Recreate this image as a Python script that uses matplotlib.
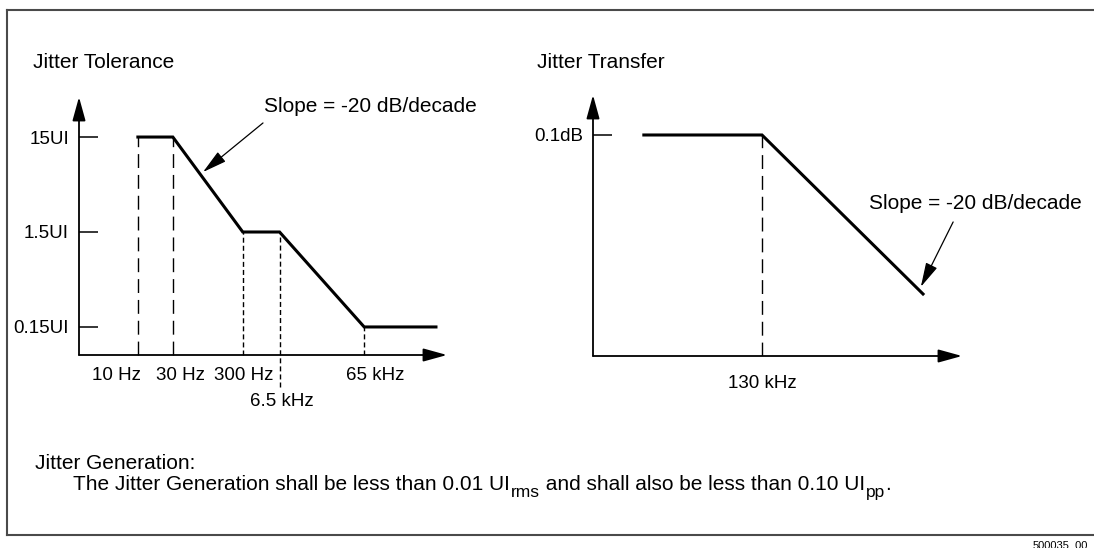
import matplotlib.pyplot as plt
from matplotlib.lines import Line2D
from matplotlib.ticker import NullLocator

plt.rcParams['font.family'] = ['Liberation Sans', 'DejaVu Sans']

# jitter tolerance mask: schematic x position, amplitude in UI
tol_pos = [1.6, 2.55, 4.45, 5.45, 7.75, 9.7]
tol_ui = [15, 15, 1.5, 1.5, 0.15, 0.15]
tol_labels = ['10 Hz', '30 Hz', '300 Hz', '6.5 kHz', '65 kHz']
tol_yticks = [0.15, 1.5, 15]
tol_yticklabels = ['0.15UI', '1.5UI', '15UI']

# jitter transfer: frequency in Hz, gain in dB
tr_freq = [24e3, 130e3, 1.3e6]
tr_gain = [0.1, 0.1, -19.9]
tr_yticks = [0.1]
tr_yticklabels = ['0.1dB']
tr_labels = ['130 kHz']

# jitter generation note, (text, is_subscript)
gen_parts = [('The Jitter Generation shall be less than 0.01 UI', False), ('rms', True),
             (' and shall also be less than 0.10 UI', False), ('pp', True), ('.', False)]

W, H = 1094, 548


def px(x, y):
    return x / W, 1 - y / H


def arrow_axes(ax):
    ap = dict(arrowstyle='-|>,head_length=1.45,head_width=0.4', mutation_scale=10,
              lw=1.3, color='black', shrinkA=0, shrinkB=0)
    ax.annotate('', xy=(1, 0), xytext=(0, 0), xycoords='axes fraction', arrowprops=ap)
    ax.annotate('', xy=(0, 1), xytext=(0, 0), xycoords='axes fraction', arrowprops=ap)
    for s in ax.spines.values():
        s.set_visible(False)
    ax.set_xticks([])
    ax.xaxis.set_minor_locator(NullLocator())
    ax.yaxis.set_minor_locator(NullLocator())
    ax.tick_params(axis='y', direction='in', length=14, width=1.1, pad=7.2, labelsize=13.5)
    ax.patch.set_alpha(0)


slope_ap = dict(arrowstyle='-|>,head_length=1.5,head_width=0.38', mutation_scale=10,
                lw=0.9, color='black', shrinkA=0, shrinkB=0)

fig = plt.figure(figsize=(W / 100, H / 100), dpi=100)

# frame
fl = dict(color='#4a4a4a', lw=1.5, transform=fig.transFigure)
fig.add_artist(Line2D([7 / W, 7 / W], [1 - 10 / H, 1 - 535 / H], **fl))
fig.add_artist(Line2D([7 / W, 1], [1 - 10 / H, 1 - 10 / H], **fl))
fig.add_artist(Line2D([7 / W, 1], [1 - 535 / H, 1 - 535 / H], **fl))

# ---- Jitter Tolerance
ax1 = fig.add_axes([79 / W, (H - 355) / H, 368 / W, 258 / H])
ax1.set_yscale('log')
ax1.set_xlim(0, 10)
ax1.set_ylim(0.076, 39.6)
arrow_axes(ax1)
ax1.set_yticks(tol_yticks)
ax1.set_yticklabels(tol_yticklabels)
ax1.plot(tol_pos, tol_ui, color='black', lw=2.2, solid_joinstyle='miter')
bottom = ax1.get_ylim()[0]
dash_styles = [(10, 5), (10, 5), (3.6, 2.2), (3.6, 2.2), (3.6, 2.2)]
for i in range(5):
    lo = bottom
    if i == 3:
        lo = 0.035  # the 6.5 kHz marker runs on below the axis
    ax1.plot([tol_pos[i], tol_pos[i]], [lo, tol_ui[i]], color='black', lw=1.0,
             dashes=dash_styles[i], clip_on=False)
label_shift = [(-21, -20), (8, -20), (1, -20), (2, -47), (11, -20)]
for i, lab in enumerate(tol_labels):
    ax1.annotate(lab, xy=(tol_pos[i], 0), xycoords=('data', 'axes fraction'),
                 xytext=label_shift[i], textcoords='offset pixels',
                 ha='center', va='center', fontsize=13.5)
ax1.annotate('', xy=(3.37, 6.42), xytext=(5.0, 21.1), arrowprops=slope_ap)
ax1.text(5.03, 31.1, 'Slope = -20 dB/decade', fontsize=15, ha='left', va='center')

# ---- Jitter Transfer
ax2 = fig.add_axes([593 / W, (H - 356) / H, 369 / W, 261 / H])
ax2.set_xscale('log')
ax2.set_xlim(11.6e3, 2.27e6)
ax2.set_ylim(-27.7, 5.13)
arrow_axes(ax2)
ax2.set_yticks(tr_yticks)
ax2.set_yticklabels(tr_yticklabels)
ax2.plot(tr_freq, tr_gain, color='black', lw=2.2, solid_joinstyle='miter')
ax2.plot([tr_freq[1], tr_freq[1]], [ax2.get_ylim()[0], tr_gain[1]], color='black',
         lw=1.0, dashes=(10, 5))
ax2.annotate(tr_labels[0], xy=(tr_freq[1], 0), xycoords=('data', 'axes fraction'),
             xytext=(0, -28), textcoords='offset pixels',
             ha='center', va='center', fontsize=13.5)
ax2.annotate('', xy=(1.26e6, -19.0), xytext=(2.0e6, -10.84), arrowprops=slope_ap)
ax2.text(6.01e5, -8.58, 'Slope = -20 dB/decade', fontsize=15, ha='left', va='center')

# titles and notes
fig.text(*px(33, 62), 'Jitter Tolerance', fontsize=15, ha='left', va='center')
fig.text(*px(537, 62), 'Jitter Transfer', fontsize=15, ha='left', va='center')
fig.text(*px(35, 469), 'Jitter Generation:', fontsize=15, ha='left', va='baseline')

# note line built piece by piece so the subscripts sit low like the original
prev = fig.text(*px(73, 490), gen_parts[0][0], fontsize=15, ha='left', va='baseline')
prev_sub = False
for txt, sub in gen_parts[1:]:
    shift = 0
    if sub and not prev_sub:
        shift = -6
    if prev_sub and not sub:
        shift = 6
    prev = fig.add_artist(plt.Annotation(txt, xy=(1, 0), xycoords=prev,
                                         xytext=(0.5, shift), textcoords='offset pixels',
                                         fontsize=12.5 if sub else 15,
                                         ha='left', va='bottom'))
    prev_sub = sub

fig.text(*px(1033, 545), '500035_00', fontsize=8, ha='left', va='center')

fig.savefig('out.png', dpi=100)
